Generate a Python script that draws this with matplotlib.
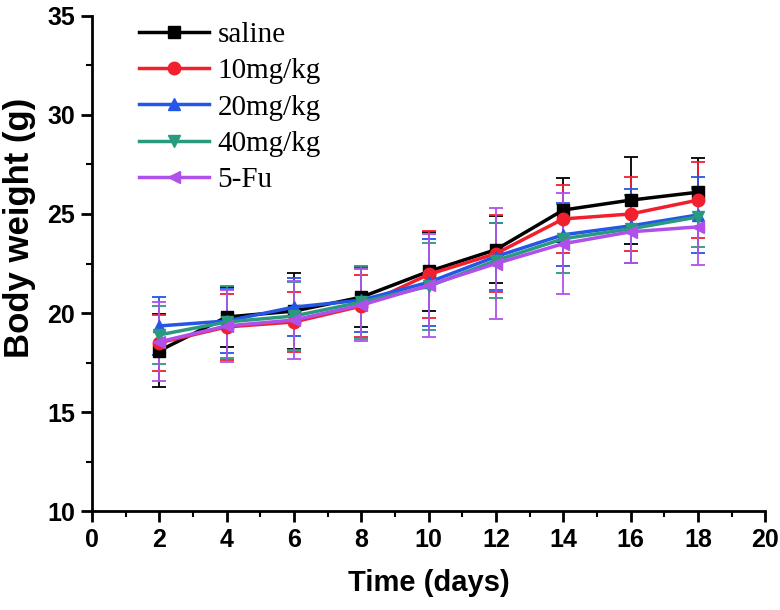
import numpy as np
import matplotlib
matplotlib.use('Agg')
import matplotlib.pyplot as plt
from matplotlib.ticker import MultipleLocator
from matplotlib.font_manager import FontProperties

days = [2, 4, 6, 8, 10, 12, 14, 16, 18]

# mean body weight (g) per group
saline = [18.1, 19.8, 20.1, 20.8, 22.1, 23.2, 25.2, 25.7, 26.1]
mg10 = [18.5, 19.3, 19.55, 20.35, 21.95, 23.0, 24.75, 25.0, 25.7]
mg20 = [19.35, 19.6, 20.3, 20.65, 21.55, 22.85, 23.95, 24.4, 24.95]
mg40 = [18.9, 19.55, 19.85, 20.55, 21.35, 22.65, 23.75, 24.25, 24.85]
fu5 = [18.55, 19.35, 19.65, 20.4, 21.4, 22.5, 23.5, 24.1, 24.35]

# standard deviations
saline_sd = [1.85, 1.5, 1.9, 1.5, 2.0, 1.7, 1.6, 2.2, 1.75]
mg10_sd = [1.4, 1.65, 1.5, 1.55, 2.2, 1.95, 1.7, 1.85, 1.9]
mg20_sd = [1.45, 1.6, 1.45, 1.6, 2.2, 1.7, 1.6, 1.85, 1.9]
mg40_sd = [1.45, 1.8, 1.7, 1.85, 2.2, 1.9, 1.75, 1.7, 1.5]
fu5_sd = [2.0, 1.8, 1.95, 1.8, 2.6, 2.8, 2.55, 1.55, 1.9]

labels = ['saline', '10mg/kg', '20mg/kg', '40mg/kg', '5-Fu']
colors = ['#000000', '#f2202e', '#2457e6', '#2a9a7e', '#b050ea']
markers = ['s', 'o', '^', 'v', '<']

fig = plt.figure(figsize=(7.8, 6.1), dpi=100)
ax = fig.add_axes([0.118, 0.162, 0.863, 0.812])

series = [(saline, saline_sd), (mg10, mg10_sd), (mg20, mg20_sd),
          (mg40, mg40_sd), (fu5, fu5_sd)]
handles = []
for (m, sd), lab, c, mk in zip(series, labels, colors, markers):
    cont = ax.errorbar(days, m, yerr=sd, color=c, marker=mk, markersize=9,
                       linewidth=2.5, elinewidth=1.3, capsize=5, capthick=1.3,
                       label=lab)
    handles.append(cont[0])

ax.set_xlim(0, 20)
ax.set_ylim(10, 35)
ax.xaxis.set_major_locator(MultipleLocator(2))
ax.xaxis.set_minor_locator(MultipleLocator(1))
ax.yaxis.set_major_locator(MultipleLocator(5))
ax.yaxis.set_minor_locator(MultipleLocator(2.5))

for s in ['top', 'right']:
    ax.spines[s].set_visible(False)
for s in ['left', 'bottom']:
    ax.spines[s].set_linewidth(2)
ax.tick_params(which='major', direction='out', length=8, width=2, pad=4)
ax.tick_params(which='minor', direction='out', length=4, width=1.5)

tickfont = FontProperties(family='Liberation Sans', weight='bold', size=18)
for t in ax.get_xticklabels() + ax.get_yticklabels():
    t.set_fontproperties(tickfont)

ax.set_xlabel('Time (days)', family='Liberation Sans', weight='bold',
              fontsize=21, labelpad=12)
ax.set_ylabel('Body weight (g)', family='Liberation Sans', weight='bold',
              fontsize=25)
ax.yaxis.set_label_coords(-0.083, 0.572)

ax.legend(handles=handles, labels=labels, loc='upper left',
          bbox_to_anchor=(0.052, 1.012), borderaxespad=0, frameon=False,
          handlelength=2.4, handletextpad=0.3, labelspacing=0.34,
          prop={'family': 'Liberation Serif', 'size': 21})

fig.savefig('out.png', dpi=100)
